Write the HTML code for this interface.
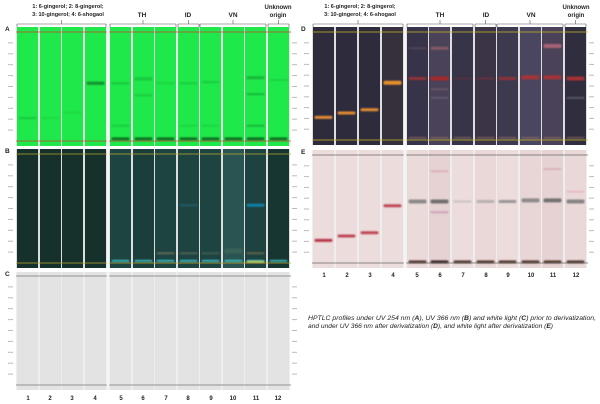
<!DOCTYPE html>
<html><head><meta charset="utf-8"><style>
html,body{margin:0;padding:0;background:#fff;width:600px;height:404px;overflow:hidden}
svg{display:block}
text{font-family:"Liberation Sans",sans-serif;font-weight:bold;fill:#222}
</style></head><body>
<svg id="s" width="600" height="404" xmlns="http://www.w3.org/2000/svg">
<defs><filter id="bl" x="-20%" y="-200%" width="140%" height="500%"><feGaussianBlur stdDeviation="0.9"/></filter></defs>
<g id="g"></g>
<text x="68" y="8" font-size="5.5" text-anchor="middle">1: 6-gingerol; 2: 8-gingerol;</text>
<text x="68" y="16" font-size="5.5" text-anchor="middle">3: 10-gingerol; 4: 6-shogaol</text>
<text x="142" y="17" font-size="6.5" text-anchor="middle">TH</text>
<text x="188" y="17" font-size="6.5" text-anchor="middle">ID</text>
<text x="233" y="17" font-size="6.5" text-anchor="middle">VN</text>
<text x="278" y="9" font-size="6" text-anchor="middle">Unknown</text>
<text x="278" y="17" font-size="6" text-anchor="middle">origin</text>
<text x="360" y="8" font-size="5.5" text-anchor="middle">1: 6-gingerol; 2: 8-gingerol;</text>
<text x="360" y="16" font-size="5.5" text-anchor="middle">3: 10-gingerol; 4: 6-shogaol</text>
<text x="440" y="17" font-size="6.5" text-anchor="middle">TH</text>
<text x="486" y="17" font-size="6.5" text-anchor="middle">ID</text>
<text x="531" y="17" font-size="6.5" text-anchor="middle">VN</text>
<text x="576" y="9" font-size="6" text-anchor="middle">Unknown</text>
<text x="576" y="17" font-size="6" text-anchor="middle">origin</text>
<text x="5" y="31" font-size="6.5">A</text>
<text x="5" y="153" font-size="6.5">B</text>
<text x="5" y="276" font-size="6.5">C</text>
<text x="301" y="31" font-size="6.5">D</text>
<text x="301" y="154" font-size="6.5">E</text>
<g font-size="6" text-anchor="middle">
<text x="28" y="400">1</text><text x="50" y="400">2</text><text x="72" y="400">3</text><text x="95" y="400">4</text>
<text x="121" y="400">5</text><text x="143" y="400">6</text><text x="166" y="400">7</text><text x="188" y="400">8</text>
<text x="211" y="400">9</text><text x="233" y="400">10</text><text x="256" y="400">11</text><text x="278" y="400">12</text>
<text x="324" y="277">1</text><text x="347" y="277">2</text><text x="370" y="277">3</text><text x="393" y="277">4</text>
<text x="417" y="277">5</text><text x="440" y="277">6</text><text x="463" y="277">7</text><text x="486" y="277">8</text>
<text x="508" y="277">9</text><text x="531" y="277">10</text><text x="553" y="277">11</text><text x="576" y="277">12</text>
</g>
<g font-size="6.4" font-style="italic">
<text x="308" y="320" style="font-weight:normal" textLength="288" lengthAdjust="spacingAndGlyphs">HPTLC profiles under UV 254 nm (<tspan font-weight="bold">A</tspan>), UV 366 nm (<tspan font-weight="bold">B</tspan>) and white light (<tspan font-weight="bold">C</tspan>) prior to derivatization,</text>
<text x="308" y="328" style="font-weight:normal" textLength="245" lengthAdjust="spacingAndGlyphs">and under UV 366 nm after derivatization (<tspan font-weight="bold">D</tspan>), and white light after derivatization (<tspan font-weight="bold">E</tspan>)</text>
</g>
</svg>
<script>
const g=document.getElementById('g');const NS='http://www.w3.org/2000/svg';
function r(x,y,w,h,f,o){const e=document.createElementNS(NS,'rect');e.setAttribute('x',x);e.setAttribute('y',y);e.setAttribute('width',w);e.setAttribute('height',h);e.setAttribute('fill',f);if(o!=null)e.setAttribute('opacity',o);g.appendChild(e);return e}
function l(x1,y1,x2,y2,c,w){const e=document.createElementNS(NS,'line');e.setAttribute('x1',x1);e.setAttribute('y1',y1);e.setAttribute('x2',x2);e.setAttribute('y2',y2);e.setAttribute('stroke',c);e.setAttribute('stroke-width',w||0.6);g.appendChild(e)}
const LX=[17,40,62,85,110,133,155,178,200,223,245,268];
const RX=[313,336,359,382,407,429,452,475,497,520,542,565];
function bracket(xs){[[0,3],[4,6],[7,7],[8,10],[11,11]].forEach(([a,b])=>{const x1=xs[a],x2=xs[b]+21;l(x1,24,x2,24,'#555',0.6);l(x1,24,x1,27,'#555',0.6);l(x2,24,x2,27,'#555',0.6);l((x1+x2)/2,20,(x1+x2)/2,24,'#555',0.6);});}
bracket(LX);bracket(RX);
function panel(xs,y0,y1,bg,lanes,ytop,ybot,lc,bands,sep){
 r(xs[0]-1,y0,xs[11]+23-xs[0],y1-y0,bg);
 xs.forEach((x,i)=>{r(x,y0,21,y1-y0,lanes[i]);});
 bands.forEach(b=>{const i=b[0]-1;const y=ybot-(ybot-ytop)*b[1];const e=r(xs[i]+1.5,y-(b[3]||3)/2,18,b[3]||3,b[2],b[4]==null?1:b[4]);e.setAttribute('rx',1.5);e.setAttribute('filter','url(#bl)')});
 l(xs[0]-1,ytop,xs[11]+23,ytop,lc,0.8);l(xs[0]-1,ybot,xs[11]+23,ybot,lc,0.8);
 if(sep){l(xs[3]+23,y0,xs[3]+23,y1,'#f4f4f4',2.5)}
 for(let k=1;k<10;k++){const y=ybot-(ybot-ytop)*k/10;r(xs[0]-9,y-0.5,5,1,'#bbb');r(xs[11]+24,y-0.5,5,1,'#bbb');}
}
const gA=Array(12).fill('#1fe84a');
panel(LX,27,146,'#e8e8e8',gA,32,141,'#c84030',[
[1,.21,'#108a2a',2,.35],[4,.53,'#0a6a20',3,.7],[2,.21,'#108a2a',2,.15],[3,.26,'#108a2a',2,.15],
...[5,6,7,8,9,10,11,12].map(i=>[i,.02,'#0a4a15',3,.75]),
[5,.53,'#108a2a',2,.35],[5,.14,'#108a2a',2,.3],[6,.57,'#108a2a',3,.35],[6,.42,'#108a2a',2,.3],[7,.53,'#108a2a',2,.2],[8,.53,'#108a2a',2,.3],[8,.14,'#108a2a',2,.2],[9,.54,'#108a2a',2,.3],[9,.14,'#108a2a',2,.2],[11,.58,'#108a2a',3,.5],[11,.43,'#108a2a',2,.5],[11,.14,'#108a2a',2,.5],[12,.56,'#108a2a',2,.2]],true);
const bL=['#16302c','#16302c','#16302c','#16302c','#1e4442','#1c3e3a','#1e4442','#1e4442','#1e4442','#2a5452','#1d4240','#173632'];
panel(LX,149,268,'#ddd',bL,154,263,'#b8a830',[
...[5,6,7,8,9,10,11,12].map(i=>[i,.02,'#40d0d8',2,.8]),[11,.01,'#d8d860',2,.9],[11,.53,'#1090c0',3,.8],[8,.53,'#2080a0',2,.4],[7,.09,'#8a8060',2,.6],[8,.09,'#7a8060',2,.5],[9,.09,'#6a8060',2,.4],[10,.11,'#4a7060',5,.5],[11,.09,'#8a7a50',2,.6]],true);
panel(LX,272,390,'#eee',Array(12).fill('#e3e3e3'),276,385,'#777',[],true);
const dL=['#2e2c3c','#2e2c3c','#2e2c3c','#35303c','#37344a','#4a4258','#37344a','#3a3446','#3d3a50','#4a4660','#4a4258','#302e3e'];
panel(RX,27,145,'#ddd',dL,32,140,'#c8b828',[
[1,.21,'#e08a30',3],[2,.25,'#e08a30',3],[3,.28,'#e08a30',3],[4,.53,'#e8902c',4],
[5,.57,'#a83030',3,.8],[6,.57,'#b02828',4,.9],[7,.57,'#803030',2,.4],[8,.57,'#903030',2,.5],[9,.57,'#a03030',3,.8],[10,.58,'#b03030',4,.9],[11,.58,'#b03030',4,.9],[12,.57,'#b03030',4,.9],
[6,.85,'#c07070',3,.5],[11,.87,'#d07080',4,.7],[5,.85,'#806070',2,.35],[6,.47,'#907080',2,.4],[6,.39,'#807888',2,.4],[12,.39,'#8890a0',2,.4],
...[5,6,7,8,9,10,11,12].map(i=>[i,.02,'#a07868',2,.5])],true);
const eL=['#ecdcdc','#ecdcdc','#ecdcdc','#ecdcdc','#eadada','#e6d2d2','#ecdcdc','#ead8d8','#ecdcdc','#e8d6d6','#e6d2d2','#ead8d8'];
panel(RX,150,268,'#eee',eL,155,263,'#666',[
[1,.21,'#b83848',3],[2,.25,'#c04858',3],[3,.28,'#c04858',3],[4,.53,'#c04858',3],
[5,.57,'#707070',4,.75],[6,.57,'#606060',4,.85],[7,.57,'#a0a0a0',2,.45],[8,.57,'#909090',3,.55],[9,.57,'#808080',3,.75],[10,.58,'#707070',4,.75],[11,.58,'#606060',4,.85],[12,.57,'#707070',4,.8],
[6,.47,'#c080b0',2,.6],[6,.85,'#d090a0',2,.5],[11,.87,'#d090a0',2,.5],[12,.66,'#e090a0',2,.4],
...[5,6,7,8,9,10,11,12].map(i=>[i,.01,i==6?'#200808':'#402018',3,.85])],true);
</script>
</body></html>
